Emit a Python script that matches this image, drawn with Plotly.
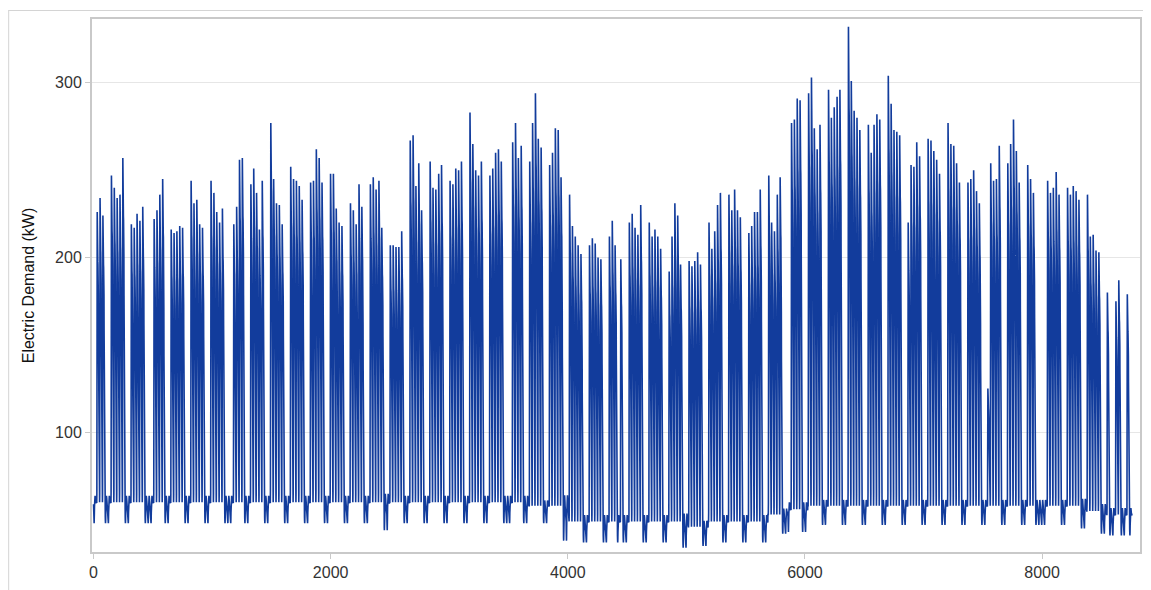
import plotly.graph_objects as go

# Weekday (Mon..Fri) daily peak demand in kW, one row per week.
# Week 0 starts Monday 31 Dec 2012 (day -1); None = holiday / no workday peak.
week_peaks = [
    [None, None, 226, 234, 224],
    [247, 240, 234, 236, 257],
    [219, 217, 225, 221, 229],
    [None, 222, 227, 236, 245],
    [216, 214, 215, 218, 217],
    [244, 231, 233, 219, 217],
    [244, 237, 226, 220, 228],
    [None, 219, 229, 256, 257],
    [242, 251, 237, 216, 244],
    [277, 245, 231, 230, 219],
    [252, 245, 244, 241, 233],
    [243, 244, 262, 257, 243],
    [248, 248, 228, 220, 218],
    [231, 227, 219, 242, 229],
    [242, 246, 239, 244, 217],
    [207, 207, 206, 206, 215],
    [267, 270, 241, 254, 227],
    [255, 240, 239, 248, 253],
    [244, 242, 251, 250, 255],
    [283, 265, 250, 247, 255],
    [247, 251, 260, 262, 255],
    [None, 266, 277, 257, 264],
    [255, 277, 294, 268, 263],
    [253, 260, 274, 273, 246],
    [236, 218, 212, 207, 202],
    [207, 211, 208, 200, 199],
    [212, 221, 207, None, 199],
    [220, 225, 217, 213, 230],
    [220, 212, 216, 212, 205],
    [192, 212, 231, 224, 196],
    [198, 195, 198, 203, 196],
    [220, 205, 215, 230, 237],
    [236, 227, 239, 227, 223],
    [214, 218, 226, 226, 239],
    [247, 220, 215, 236, 246],
    [None, 277, 279, 291, 290],
    [294, 303, 274, 262, 276],
    [296, 280, 286, 292, 296],
    [332, 301, 284, 280, 273],
    [276, 260, 276, 282, 279],
    [304, 288, 273, 272, 270],
    [220, 253, 252, 266, 258],
    [268, 267, 261, 256, 248],
    [277, 265, 264, 254, 243],
    [243, 245, 250, 238, 231],
    [125, 254, 244, 245, 264],
    [254, 265, 279, 261, 243],
    [253, 245, 237, None, None],
    [244, 237, 240, 249, 236],
    [240, 236, 241, 238, 233],
    [236, 212, 213, 204, 203],
    [180, None, None, 175, 187],
    [179, None, None, None, None],
]

# Night-time base load per week (kW) and weekend minimum per week (kW)
week_night_base = [60] * 22 + [58, 58] + [49] * 6 + [46] + [49] * 3 + [53, 56] + [58] * 14 + [55, 53, 53]
weekend_low = ([48] * 14 + [44] + [48] * 8 + [38] + [37] * 5 + [34, 35] + [37] * 3 + [42, 43]
               + [47] * 13 + [45, 42, 41, 41])

# Hour-of-day shapes (0 = base, 1 = daily peak / weekend minimum)
weekday_shape = [0.0, 0.0, 0.0, 0.0, 0.03, 0.25, 0.6, 1.0, 0.85, 0.83, 0.82, 0.83,
                 0.83, 0.82, 0.8, 0.78, 0.72, 0.6, 0.45, 0.3, 0.15, 0.08, 0.04, 0.01]
weekend_shape = [0.1, 0.25, 0.45, 0.7, 0.9, 1.0, 0.85, 0.5, 0.2, 0.0, -0.15, -0.25,
                 -0.3, -0.3, -0.25, -0.2, -0.1, 0.0, 0.05, 0.05, 0.0, 0.0, 0.05, 0.05]

x_ticks = [0, 2000, 4000, 6000, 8000]
y_ticks = [100, 200, 300]

hours, demand = [], []
for k, peaks in enumerate(week_peaks):
    base = week_night_base[k]
    low = weekend_low[k]
    for dow in range(7):
        day = 7 * k - 1 + dow
        if day < 0 or day > 364:
            continue
        pk = peaks[dow] if dow < 5 else None
        for h in range(24):
            if pk is None:
                v = base - (base - low) * weekend_shape[h]
            else:
                v = base + (pk - base) * weekday_shape[h]
            hours.append(day * 24 + h)
            demand.append(round(v, 1))

fig = go.Figure(go.Scatter(
    x=hours, y=demand, mode="lines",
    line=dict(color="#123c9c", width=1.6),
    hoverinfo="skip", showlegend=False,
))

font_family = "Liberation Sans, Arial, sans-serif"
tick_font = dict(family=font_family, size=16, color="#333333")
fig.update_layout(
    width=1143, height=582,
    margin=dict(l=84, r=9, t=9, b=38),
    paper_bgcolor="white", plot_bgcolor="white",
    font=tick_font,
    xaxis=dict(range=[-13, 8826], tickvals=x_ticks, showgrid=False, zeroline=False,
               showline=True, mirror=True, linecolor="#c9c9c9", linewidth=2,
               ticks="outside", ticklen=5, tickcolor="#c9c9c9", tickfont=tick_font),
    yaxis=dict(range=[31.5, 336.5], tickvals=y_ticks, showgrid=True, gridcolor="#e6e6e6",
               gridwidth=1, zeroline=False,
               showline=True, mirror=True, linecolor="#c9c9c9", linewidth=2,
               ticks="outside", ticklen=5, tickcolor="#c9c9c9", tickfont=tick_font,
               title=dict(text="Electric Demand (kW)", standoff=16,
                          font=dict(family=font_family, size=16, color="#111111"))),
    shapes=[
        dict(type="line", xref="paper", yref="paper", x0=-0.08, x1=1.01, y0=1.0159, y1=1.0159,
             line=dict(color="#d4d4d4", width=1)),
        dict(type="line", xref="paper", yref="paper", x0=-0.0795, x1=-0.0795, y0=-0.08, y1=1.0159,
             line=dict(color="#d4d4d4", width=1)),
    ],
)

fig.write_html("out.html")
